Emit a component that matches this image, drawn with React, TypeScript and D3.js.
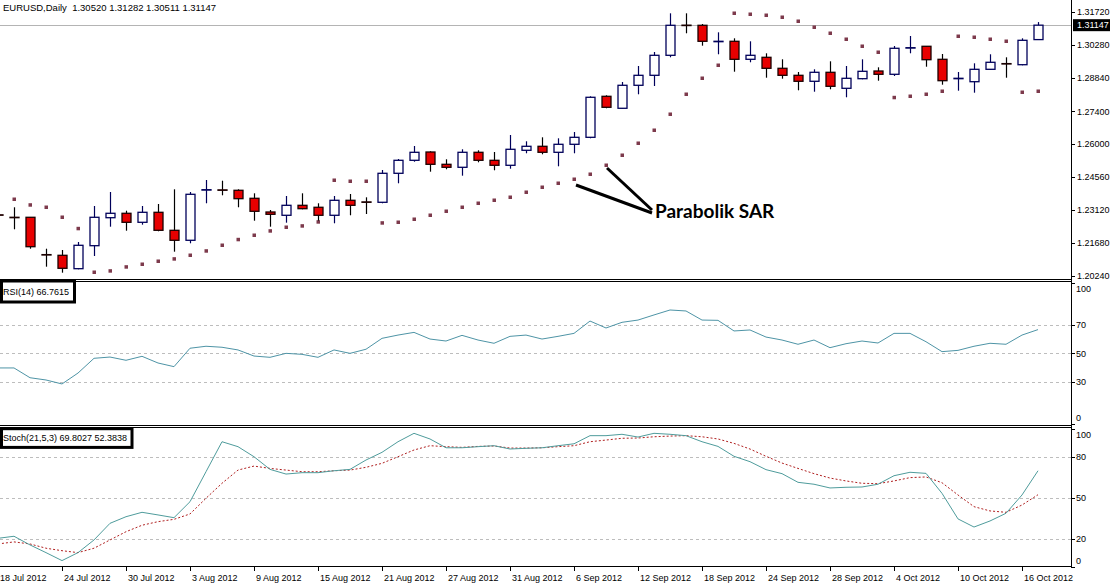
import React from 'react';
import * as d3 from 'd3';

// EURUSD daily bars, 18 Jul 2012 .. 17 Oct 2012
const dates = [
  '18 Jul', '19 Jul', '20 Jul', '23 Jul', '24 Jul', '25 Jul', '26 Jul', '27 Jul', '30 Jul', '31 Jul',
  '1 Aug', '2 Aug', '3 Aug', '6 Aug', '7 Aug', '8 Aug', '9 Aug', '10 Aug', '13 Aug', '14 Aug',
  '15 Aug', '16 Aug', '17 Aug', '20 Aug', '21 Aug', '22 Aug', '23 Aug', '24 Aug', '27 Aug', '28 Aug',
  '29 Aug', '30 Aug', '31 Aug', '3 Sep', '4 Sep', '5 Sep', '6 Sep', '7 Sep', '10 Sep', '11 Sep',
  '12 Sep', '13 Sep', '14 Sep', '17 Sep', '18 Sep', '19 Sep', '20 Sep', '21 Sep', '24 Sep', '25 Sep',
  '26 Sep', '27 Sep', '28 Sep', '1 Oct', '2 Oct', '3 Oct', '4 Oct', '5 Oct', '8 Oct', '9 Oct',
  '10 Oct', '11 Oct', '12 Oct', '15 Oct', '16 Oct', '17 Oct',
];

const open = [
  1.229, 1.22793, 1.22793, 1.2117, 1.2114, 1.20558, 1.21558, 1.22775, 1.22967, 1.22575,
  1.2301, 1.22227, 1.21793, 1.2399, 1.23985, 1.23967, 1.23619, 1.23023, 1.2288, 1.23314,
  1.23228, 1.2288, 1.23532, 1.23462, 1.23445, 1.24706, 1.25271, 1.25632, 1.25097, 1.24967,
  1.25619, 1.25271, 1.25054, 1.25706, 1.2588, 1.25619, 1.25967, 1.26271, 1.28054, 1.27533,
  1.28533, 1.28967, 1.29837, 1.31148, 1.31142, 1.3044, 1.30446, 1.29663, 1.2975, 1.29272,
  1.28967, 1.28707, 1.29098, 1.28402, 1.2882, 1.29154, 1.29011, 1.30165, 1.30229, 1.29663,
  1.28835, 1.28689, 1.29228, 1.29476, 1.29428, 1.3052,
];
const high = [
  1.23023, 1.23228, 1.228, 1.21427, 1.21371, 1.21719, 1.23284, 1.23893, 1.2308, 1.23284,
  1.23371, 1.2401, 1.23893, 1.24415, 1.24384, 1.2401, 1.23836, 1.2311, 1.23719, 1.23836,
  1.23402, 1.23719, 1.23806, 1.23662, 1.2485, 1.25328, 1.25893, 1.25663, 1.25315, 1.2575,
  1.25706, 1.25632, 1.26371, 1.26098, 1.26271, 1.26228, 1.26502, 1.28054, 1.28098, 1.28676,
  1.29372, 1.29981, 1.31663, 1.31663, 1.31198, 1.30837, 1.30576, 1.30446, 1.29924, 1.29663,
  1.29111, 1.29228, 1.29576, 1.29372, 1.29663, 1.29315, 1.30242, 1.30676, 1.30235, 1.29894,
  1.29111, 1.29489, 1.29881, 1.2975, 1.30576, 1.31282,
];
const low = [
  1.22762, 1.22271, 1.21427, 1.20645, 1.20384, 1.20532, 1.2111, 1.22384, 1.2221, 1.22471,
  1.22184, 1.21297, 1.21662, 1.23402, 1.23749, 1.23228, 1.22645, 1.22384, 1.22558, 1.2314,
  1.22645, 1.22532, 1.2288, 1.22936, 1.23402, 1.24271, 1.2521, 1.24776, 1.2488, 1.24602,
  1.25184, 1.24837, 1.24906, 1.25576, 1.25532, 1.2501, 1.25576, 1.26228, 1.27533, 1.2753,
  1.28141, 1.28502, 1.2975, 1.30794, 1.30255, 1.29881, 1.29124, 1.29533, 1.28863, 1.2882,
  1.28315, 1.28254, 1.28359, 1.28011, 1.28794, 1.28733, 1.28937, 1.29924, 1.29341, 1.28559,
  1.28298, 1.28211, 1.29225, 1.28863, 1.29402, 1.30511,
];
const close = [
  1.22893, 1.2279, 1.21514, 1.21166, 1.20575, 1.21575, 1.22793, 1.22967, 1.22575, 1.2301,
  1.22227, 1.21793, 1.23793, 1.23993, 1.2398, 1.23602, 1.23054, 1.22923, 1.23314, 1.23167,
  1.2288, 1.23532, 1.23314, 1.23458, 1.24706, 1.25271, 1.25619, 1.25097, 1.24967, 1.25619,
  1.25271, 1.25054, 1.2575, 1.2588, 1.25619, 1.25967, 1.26271, 1.28011, 1.27576, 1.28533,
  1.28967, 1.29837, 1.31142, 1.31142, 1.30446, 1.30446, 1.29663, 1.29837, 1.29272, 1.28967,
  1.28707, 1.29098, 1.28489, 1.28837, 1.29141, 1.29011, 1.30142, 1.30168, 1.29646, 1.28733,
  1.28837, 1.29228, 1.29533, 1.29472, 1.30489, 1.31147,
];
const sar = [
  1.23719, 1.23588, 1.2334, 1.2324, 1.22806, 1.22314, 1.20414, 1.20471, 1.20645, 1.20762,
  1.20893, 1.20993, 1.21153, 1.2134, 1.21588, 1.21836, 1.22023, 1.2221, 1.22371, 1.22428,
  1.22602, 1.24415, 1.24371, 1.24371, 1.22558, 1.22588, 1.22719, 1.22893, 1.23067, 1.2324,
  1.23414, 1.23545, 1.23675, 1.23893, 1.2411, 1.24284, 1.24458, 1.24676, 1.25067, 1.25502,
  1.26024, 1.26589, 1.27285, 1.28154, 1.2885, 1.29415, 1.31677, 1.31633, 1.31589, 1.31503,
  1.31329, 1.31068, 1.30807, 1.30546, 1.30242, 1.29981, 1.28011, 1.28067, 1.28154, 1.28285,
  1.30676, 1.30633, 1.30546, 1.30459, 1.28241, 1.28285,
];
const rsi = [
  39.7, 39.7, 32.8, 31.2, 28.4, 36.1, 46.5, 47.4, 45.1, 47.9,
  43.2, 40.6, 53.6, 55.0, 54.3, 52.4, 48.1, 47.2, 50.0, 49.3,
  47.2, 52.4, 50.0, 52.9, 60.6, 62.9, 64.8, 60.1, 58.7, 62.7,
  59.4, 57.1, 62.0, 62.9, 60.1, 62.0, 64.1, 72.8, 67.9, 71.9,
  73.5, 77.1, 80.6, 79.9, 73.5, 73.3, 65.8, 66.5, 61.5, 59.4,
  56.4, 59.4, 54.0, 56.8, 58.7, 57.3, 64.1, 64.1, 58.2, 51.2,
  52.1, 55.0, 57.1, 56.4, 62.9, 66.76,
];
const stochMain = [
  20.7, 22.2, 15.9, 10.3, 4.5, 10.3, 19.5, 31.6, 36.4, 39.6,
  37.7, 35.7, 47.3, 69.1, 90.9, 87.3, 80.0, 70.8, 67.4, 68.4,
  68.4, 69.8, 70.8, 77.6, 83.2, 90.9, 97.0, 92.9, 86.5, 86.5,
  87.3, 88.0, 85.6, 86.1, 86.5, 88.0, 89.4, 95.3, 95.3, 96.3,
  94.3, 97.0, 96.3, 95.3, 90.9, 87.5, 80.3, 76.4, 70.6, 67.7,
  61.4, 60.0, 57.3, 57.8, 58.0, 60.0, 66.2, 68.7, 67.9, 53.4,
  34.8, 28.9, 33.3, 38.9, 52.2, 69.8,
];
const stochSignal = [
  16.6, 18.1, 16.6, 13.5, 11.7, 10.3, 13.5, 19.5, 25.5, 30.2,
  32.8, 34.5, 38.4, 49.8, 60.7, 70.3, 73.2, 71.5, 70.3, 69.1,
  69.1, 69.8, 70.3, 72.3, 75.2, 80.0, 84.9, 88.0, 87.3, 86.8,
  87.5, 87.8, 86.3, 86.3, 86.5, 87.3, 88.0, 90.9, 92.1, 93.4,
  93.6, 94.5, 95.0, 95.3, 94.5, 92.9, 89.7, 85.6, 80.3, 75.4,
  71.5, 67.7, 64.5, 62.4, 60.7, 60.4, 62.4, 64.8, 65.3, 61.1,
  52.2, 43.7, 40.6, 39.6, 44.9, 52.38,
];

const priceTicks = ['1.31720', '1.30280', '1.28840', '1.27400', '1.26000', '1.24560', '1.23120', '1.21680', '1.20240'];
const rsiLevels = [70, 50, 30];
const rsiTicks = [100, 70, 50, 30, 0];
const stochLevels = [80, 50, 20];
const stochTicks = [100, 80, 50, 20, 0];
const tickEvery = 4;

const W = 1110;
const H = 585;
const RIGHT = 1071;
const FONT = '"Liberation Sans", Arial, sans-serif';

const App: React.FC = () => {
  const n = dates.length;
  const x = d3.scaleLinear().domain([0, n - 1]).range([-2, 1038]);
  const yP = d3.scaleLinear().domain([1.2024, 1.3172]).range([276, 12]);
  const yR = d3.scaleLinear().domain([0, 100]).range([424.2, 282.5]);
  const yS = d3.scaleLinear().domain([0, 100]).range([566.8, 429.2]);

  const idx = d3.range(n);
  const rsiLine = d3.line<number>().x((i) => x(i)).y((i) => yR(rsi[i]));
  const kLine = d3.line<number>().x((i) => x(i)).y((i) => yS(stochMain[i]));
  const dLine = d3.line<number>().x((i) => x(i)).y((i) => yS(stochSignal[i]));

  const clampLabel = (y: number, top: number, bottom: number) =>
    Math.max(top + 6, Math.min(bottom - 6, y));

  const bid = close[n - 1];

  return (
    <svg
      width={W}
      height={H}
      style={{ position: 'absolute', left: 0, top: 0, background: '#fff' }}
      fontFamily={FONT}
    >
      <defs>
        <clipPath id="mainClip">
          <rect x={0} y={0} width={RIGHT} height={279} />
        </clipPath>
        <clipPath id="rsiClip">
          <rect x={0} y={282} width={RIGHT} height={143} />
        </clipPath>
        <clipPath id="stochClip">
          <rect x={0} y={428} width={RIGHT} height={138} />
        </clipPath>
      </defs>

      <rect x={0} y={0} width={W} height={H} fill="#fff" />

      {/* header */}
      <text x={3} y={10.5} fontSize={9.5} fill="#000">
        EURUSD,Daily{'\u00a0\u00a0'}1.30520 1.31282 1.30511 1.31147
      </text>

      {/* main chart */}
      <g clipPath="url(#mainClip)">
        <line x1={0} x2={RIGHT} y1={Math.round(yP(bid)) + 0.5} y2={Math.round(yP(bid)) + 0.5} stroke="#b4b4b4" />

        {idx.map((i) => (
          <rect key={'s' + i} x={x(i) - 1.5} y={yP(sar[i]) - 1.5} width={3.5} height={3.5} fill="#7d3a4c" />
        ))}

        {idx.map((i) => {
          const bull = close[i] >= open[i];
          const cx = Math.round(x(i)) + 0.5;
          const top = yP(Math.max(open[i], close[i]));
          const bot = yP(Math.min(open[i], close[i]));
          const edge = bull ? '#00005a' : '#1a0000';
          return (
            <g key={'c' + i}>
              <line x1={cx} x2={cx} y1={yP(high[i])} y2={yP(low[i])} stroke={bull ? '#00005a' : '#000'} strokeWidth={1.2} />
              <rect
                x={cx - 4.5}
                y={top}
                width={9}
                height={Math.max(bot - top, 0.4)}
                fill={bull ? '#fff' : '#e80000'}
                stroke={edge}
                strokeWidth={1.3}
              />
            </g>
          );
        })}

        {/* annotation */}
        <line x1={576} y1={185} x2={652} y2={213} stroke="#000" strokeWidth={3} />
        <line x1={607} y1={168} x2={652} y2={210} stroke="#000" strokeWidth={3} />
        <text x={655} y={218} fontSize={19} fontWeight="bold" fontFamily="Lato, 'Liberation Sans', sans-serif" fill="#000">
          Parabolik SAR
        </text>
      </g>

      {/* RSI panel */}
      <g clipPath="url(#rsiClip)">
        {rsiLevels.map((v) => (
          <line key={'rl' + v} x1={0} x2={RIGHT} y1={Math.round(yR(v)) + 0.5} y2={Math.round(yR(v)) + 0.5} stroke="#bdbdbd" strokeDasharray="3,3" />
        ))}
        <path d={rsiLine(idx) || ''} fill="none" stroke="#4e94a6" strokeWidth={1} />
      </g>

      {/* Stochastic panel */}
      <g clipPath="url(#stochClip)">
        {stochLevels.map((v) => (
          <line key={'sl' + v} x1={0} x2={RIGHT} y1={Math.round(yS(v)) + 0.5} y2={Math.round(yS(v)) + 0.5} stroke="#bdbdbd" strokeDasharray="3,3" />
        ))}
        <path d={dLine(idx) || ''} fill="none" stroke="#b02020" strokeWidth={1} strokeDasharray="2,2" />
        <path d={kLine(idx) || ''} fill="none" stroke="#4f9c9c" strokeWidth={1} />
      </g>

      {/* panel borders */}
      <line x1={0} x2={RIGHT} y1={279.5} y2={279.5} stroke="#000" />
      <line x1={0} x2={RIGHT} y1={281.5} y2={281.5} stroke="#000" />
      <line x1={0} x2={RIGHT} y1={425.5} y2={425.5} stroke="#000" />
      <line x1={0} x2={RIGHT} y1={427.5} y2={427.5} stroke="#000" />
      <line x1={0} x2={RIGHT + 1} y1={566.5} y2={566.5} stroke="#000" />
      <line x1={RIGHT + 0.5} x2={RIGHT + 0.5} y1={0} y2={567} stroke="#000" />

      {/* price axis */}
      {priceTicks.map((t) => {
        const y = yP(+t);
        return (
          <g key={'p' + t}>
            <line x1={RIGHT} x2={RIGHT + 4} y1={Math.round(y) + 0.5} y2={Math.round(y) + 0.5} stroke="#000" />
            <text x={RIGHT + 6} y={y + 3.2} fontSize={9} fill="#000">{t}</text>
          </g>
        );
      })}
      <rect x={RIGHT + 2} y={yP(bid) - 6} width={W - RIGHT - 2} height={12} fill="#000" />
      <text x={RIGHT + 6} y={yP(bid) + 3.2} fontSize={9} fill="#fff">{bid.toFixed(5)}</text>

      {/* RSI axis */}
      {rsiTicks.map((v) => (
        <g key={'rt' + v}>
          <line x1={RIGHT} x2={RIGHT + 4} y1={Math.round(yR(v)) + 0.5} y2={Math.round(yR(v)) + 0.5} stroke="#000" />
          <text x={RIGHT + 5} y={clampLabel(yR(v), 282.5, 424.2) + 3.2} fontSize={9} fill="#000">{v}</text>
        </g>
      ))}

      {/* Stoch axis */}
      {stochTicks.map((v) => (
        <g key={'st' + v}>
          <line x1={RIGHT} x2={RIGHT + 4} y1={Math.round(yS(v)) + 0.5} y2={Math.round(yS(v)) + 0.5} stroke="#000" />
          <text x={RIGHT + 5} y={clampLabel(yS(v), 429.2, 566.8) + 3.2} fontSize={9} fill="#000">{v}</text>
        </g>
      ))}

      {/* indicator captions */}
      <rect x={1.5} y={281} width={73} height={21} fill="#fff" stroke="#000" strokeWidth={3} />
      <text x={3} y={295} fontSize={9} fill="#000">RSI(14) 66.7615</text>
      <rect x={1.5} y={428.7} width={130.5} height={18.7} fill="#fff" stroke="#000" strokeWidth={3} />
      <text x={3} y={441} fontSize={9} fill="#000">Stoch(21,5,3) 69.8027 52.3838</text>

      {/* time axis */}
      {idx
        .filter((i) => i % tickEvery === 0)
        .map((i) => {
          const tx = Math.round(x(i)) + 0.5;
          return (
            <g key={'d' + i}>
              <line x1={tx} x2={tx} y1={567} y2={571} stroke="#000" />
              <text x={tx + 1.5} y={581} fontSize={9} fill="#000">
                {dates[i]} 2012
              </text>
            </g>
          );
        })}
    </svg>
  );
};

export default App;
